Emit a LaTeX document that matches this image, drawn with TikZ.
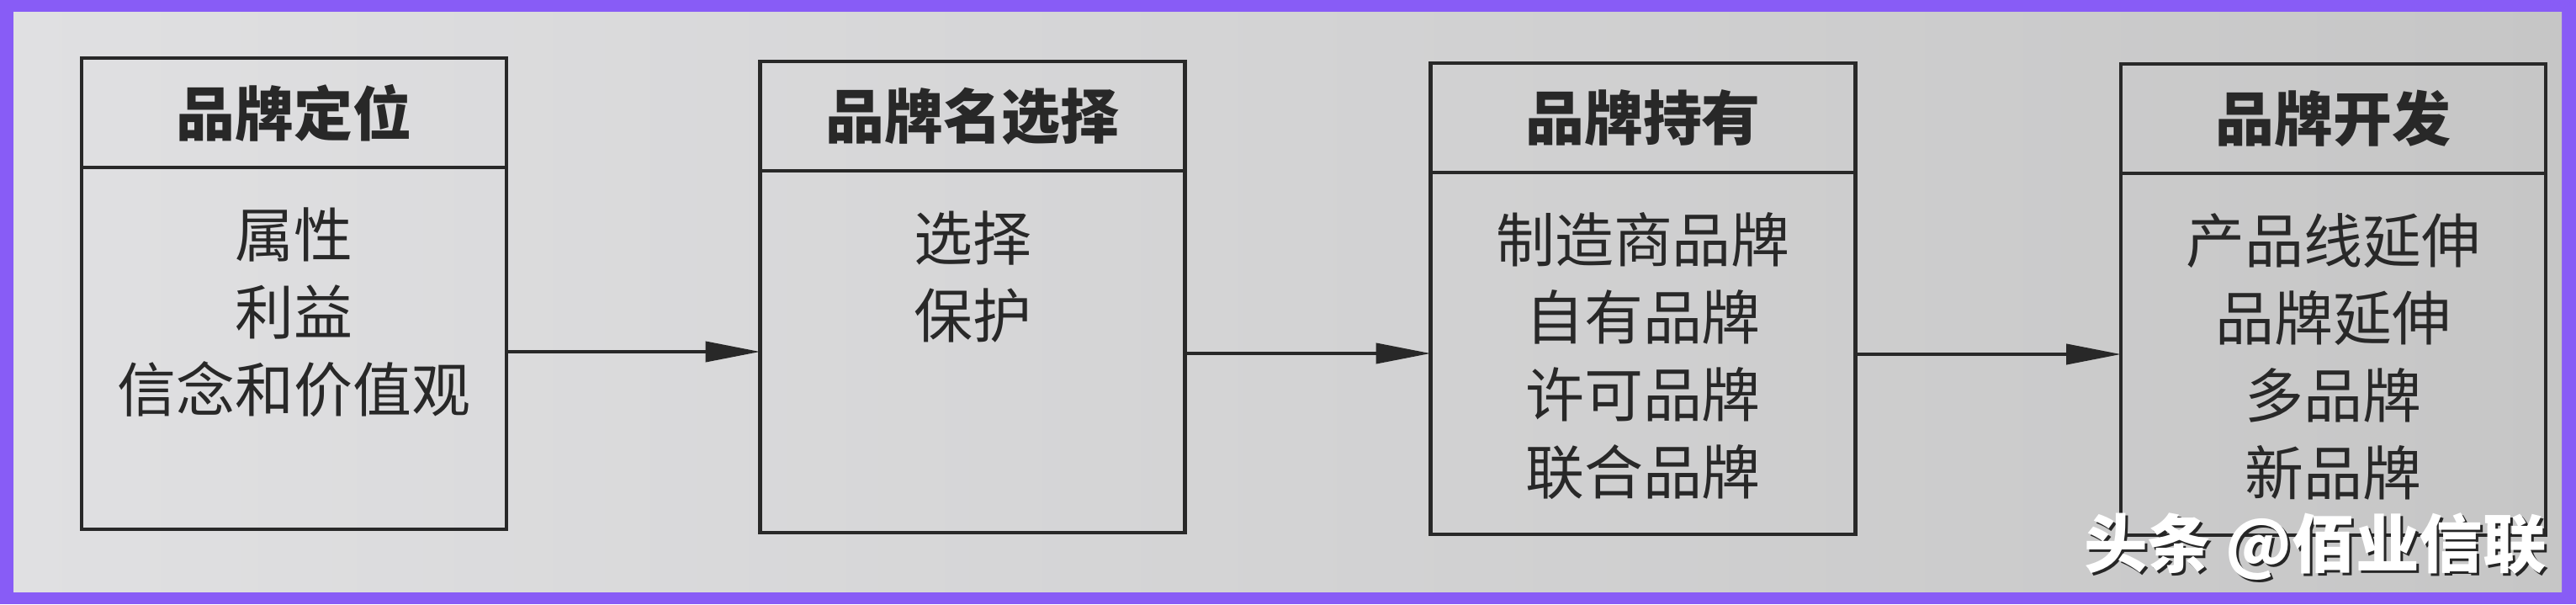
\documentclass[tikz,border=0pt]{standalone}
\usepackage{fontspec}
\setmainfont{Noto Sans CJK SC}
\usetikzlibrary{calc,backgrounds,arrows.meta,positioning}
\definecolor{framepurple}{RGB}{136,92,246}
\definecolor{paperlight}{RGB}{224,224,226}
\definecolor{paperdark}{RGB}{198,198,198}
\definecolor{ink}{RGB}{40,40,40}

\begin{document}
\begin{tikzpicture}[%
        headbox/.style={draw=ink, line width=1.4pt, outer sep=0pt, inner sep=0pt,%
            minimum width=5.05cm, minimum height=1.30cm, text=ink,%
            font=\fontsize{19.9}{24}\selectfont\bfseries},%
        bodybox/.style={draw=ink, line width=1.4pt, outer sep=0pt, inner sep=0pt,%
            minimum width=5.05cm, minimum height=4.30cm},%
        bodyline/.style={inner sep=0pt, text=ink, font=\fontsize{19.9}{24}\selectfont},%
        flowarrow/.style={draw=ink, line width=1.15pt, -{Triangle[length=0.65cm, width=0.24cm]}},%
        markfont/.style={inner sep=0pt, font=\fontsize{21.5}{24}\selectfont\bfseries}%
    ]
        %
        % Cadre
        %
        \useasboundingbox (0,0) rectangle (30.62,7.18);%
        \fill[framepurple] (0,0) rectangle (30.62,7.18);%
        \shade[left color=paperlight, right color=paperdark] (0.16,0.15) rectangle (30.45,7.04);%

        %
        % Blocs
        %
        \foreach \n/\x/\y/\t in {1/3.495/6.49/品牌定位,2/11.56/6.45/品牌名选择,%
            3/19.53/6.43/品牌持有,4/27.735/6.42/品牌开发} {%
            \node[headbox, anchor=north] (head\n) at (\x,\y) {\t};%
            \node[bodybox, below=0pt of head\n] (body\n) {};%
        }%

        % Contenu
        \foreach \n/\lines in {1/{属性,利益,信念和价值观},2/{选择,保护},%
            3/{制造商品牌,自有品牌,许可品牌,联合品牌},%
            4/{产品线延伸,品牌延伸,多品牌,新品牌}} {%
            \foreach \l [count=\i] in \lines {%
                \node[bodyline] (line\n\i) at ($(body\n.north)+(0,{-0.80-(\i-1)*0.92})$) {\l};%
            }%
        }%

        %
        % Flèches
        %
        \foreach \a/\b in {1/2,2/3,3/4} {%
            \draw[flowarrow] (body\a.east |- body\b.west) -- (body\b.west);%
        }%

        % Filigrane
        \node[markfont, text=black!85] (markshadow) at (27.55,0.655) {头条 @佰业信联};%
        \node[markfont, text=white] (mark) at (27.52,0.68) {头条 @佰业信联};%
    \end{tikzpicture}
\end{document}
